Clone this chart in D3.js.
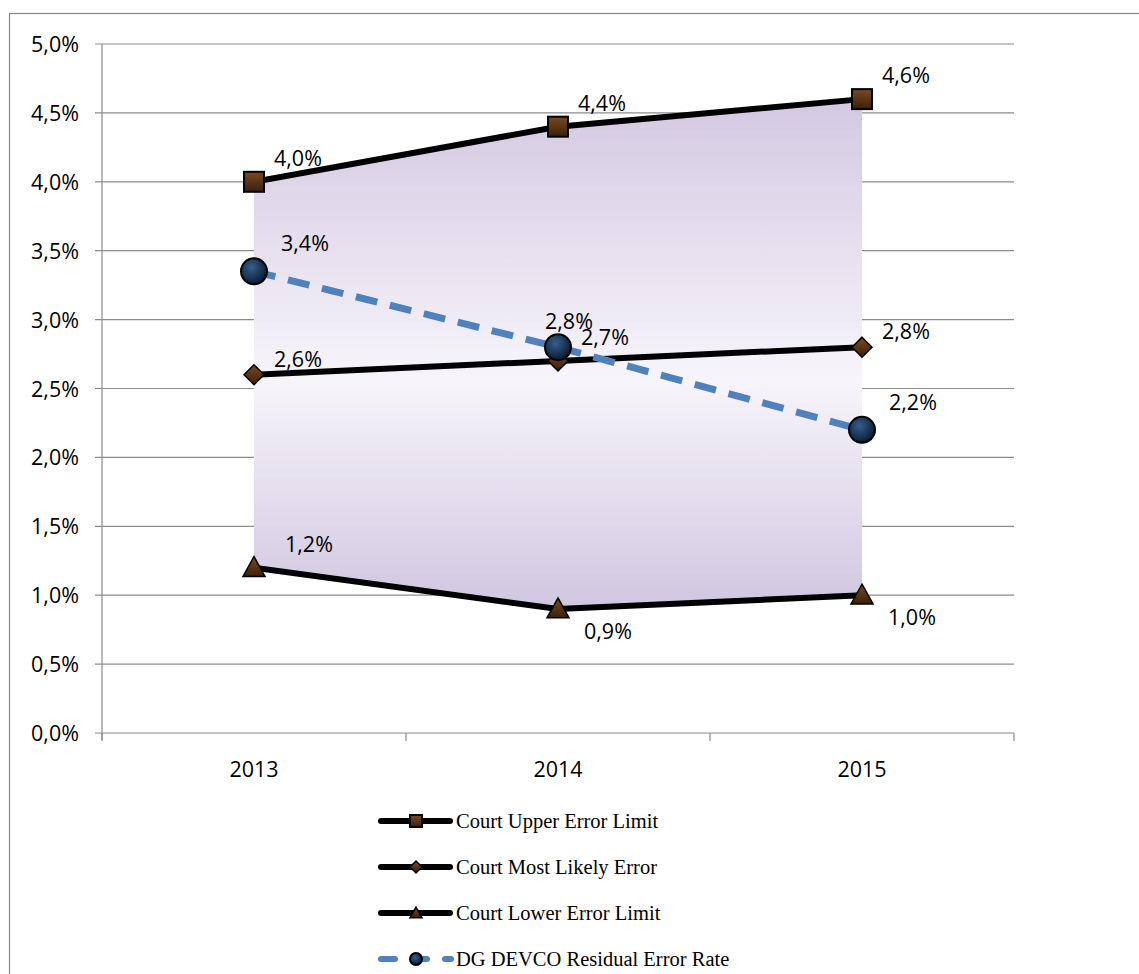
<!DOCTYPE html>
<html><head><meta charset="utf-8">
<script src="https://cdn.jsdelivr.net/npm/d3@7"></script>
<style>body{margin:0;background:#fff}</style>
</head><body>
<svg id="chart" width="1139" height="974"></svg>
<script>
const years = ["2013", "2014", "2015"];
const upper = [4.0, 4.4, 4.6];
const likely = [2.6, 2.7, 2.8];
const lower = [1.2, 0.9, 1.0];
const dg = [3.35, 2.8, 2.2];
const dgLabels = ["3,4%", "2,8%", "2,2%"];
const yTicks = [0, 0.5, 1, 1.5, 2, 2.5, 3, 3.5, 4, 4.5, 5];

const svg = d3.select("#chart");
const fmt = v => v.toFixed(1).replace(".", ",") + "%";
svg.append("rect").attr("x", 9.5).attr("y", 13.5).attr("width", 1140).attr("height", 970)
  .attr("fill", "none").attr("stroke", "#888").attr("stroke-width", 1.2);

const x = d3.scaleBand().domain(years).range([102, 1014]);
const y = d3.scaleLinear().domain([0, 5]).range([733, 44]);
const cx = d => x(d) + x.bandwidth() / 2;

const defs = svg.append("defs");
const g1 = defs.append("linearGradient").attr("id", "band").attr("x1", 0).attr("y1", 0).attr("x2", 0).attr("y2", 1);
g1.append("stop").attr("offset", "0%").attr("stop-color", "#d3c8e2");
g1.append("stop").attr("offset", "55%").attr("stop-color", "#f7f5fa");
g1.append("stop").attr("offset", "100%").attr("stop-color", "#d0c6e0");
const g2 = defs.append("radialGradient").attr("id", "ball").attr("cx", "40%").attr("cy", "35%").attr("r", "65%");
g2.append("stop").attr("offset", "0%").attr("stop-color", "#355f8c");
g2.append("stop").attr("offset", "100%").attr("stop-color", "#0a1a33");
const g3 = defs.append("linearGradient").attr("id", "brown").attr("x1", 0).attr("y1", 0).attr("x2", 0).attr("y2", 1);
g3.append("stop").attr("offset", "0%").attr("stop-color", "#7a4a22");
g3.append("stop").attr("offset", "100%").attr("stop-color", "#3b1f0a");

// gridlines
svg.append("g").selectAll("line").data(yTicks).join("line")
  .attr("x1", 95).attr("x2", 1014).attr("y1", d => y(d)).attr("y2", d => y(d))
  .attr("stroke", "#8c8c8c").attr("stroke-width", 1.2);
svg.append("g").selectAll("text").data(yTicks).join("text")
  .attr("x", 79).attr("y", d => y(d) + 8).attr("text-anchor", "end")
  .attr("font-family", "Open Sans, sans-serif").attr("font-size", 21.5).text(fmt);

// area
const area = d3.area().x((d, i) => cx(years[i])).y0((d, i) => y(lower[i])).y1(d => y(d));
svg.append("path").datum(upper).attr("d", area).attr("fill", "url(#band)");

// axes lines
svg.append("line").attr("x1", 102).attr("x2", 102).attr("y1", 44).attr("y2", 740).attr("stroke", "#8c8c8c").attr("stroke-width", 1.2);
svg.append("g").selectAll("line").data([102, 406, 710, 1014]).join("line")
  .attr("x1", d => d).attr("x2", d => d).attr("y1", 733).attr("y2", 741).attr("stroke", "#8c8c8c").attr("stroke-width", 1.2);
svg.append("g").selectAll("text").data(years).join("text")
  .attr("x", cx).attr("y", 777).attr("text-anchor", "middle")
  .attr("font-family", "Open Sans, sans-serif").attr("font-size", 21.5).text(d => d);

const line = d3.line().x((d, i) => cx(years[i])).y(d => y(d));
[upper, likely, lower].forEach(s => svg.append("path").datum(s).attr("d", line)
  .attr("fill", "none").attr("stroke", "#000").attr("stroke-width", 6));
svg.append("path").datum(dg).attr("d", line).attr("fill", "none")
  .attr("stroke", "#4f81bd").attr("stroke-width", 7).attr("stroke-dasharray", "22,13");

function marker(g, type, px, py, s) {
  if (type === "sq") {
    g.append("rect").attr("x", px - s).attr("y", py - s).attr("width", 2 * s).attr("height", 2 * s)
      .attr("fill", "url(#brown)").attr("stroke", "#000").attr("stroke-width", 2);
  } else if (type === "dia") {
    g.append("path").attr("d", `M${px},${py - s}L${px + s},${py}L${px},${py + s}L${px - s},${py}Z`)
      .attr("fill", "url(#brown)").attr("stroke", "#000").attr("stroke-width", 1.5);
  } else if (type === "tri") {
    g.append("path").attr("d", `M${px},${py - s}L${px + s},${py + s * 0.8}L${px - s},${py + s * 0.8}Z`)
      .attr("fill", "url(#brown)").attr("stroke", "#000").attr("stroke-width", 1.5);
  } else {
    g.append("circle").attr("cx", px).attr("cy", py).attr("r", s)
      .attr("fill", "url(#ball)").attr("stroke", "#000").attr("stroke-width", 2);
  }
}
const mk = svg.append("g");
years.forEach((yr, i) => {
  marker(mk, "sq", cx(yr), y(upper[i]), 10);
  marker(mk, "dia", cx(yr), y(likely[i]), 10);
  marker(mk, "tri", cx(yr), y(lower[i]), 11);
  marker(mk, "ball", cx(yr), y(dg[i]), 13);
});

// data labels
const labels = [];
years.forEach((yr, i) => {
  labels.push({ x: cx(yr) + 20, y: y(upper[i]) - 16, t: fmt(upper[i]) });
  labels.push({ x: cx(yr) + (i === 1 ? 23 : 20), y: y(likely[i]) - 8 + (i === 1 ? -8 : 0), t: fmt(likely[i]) });
  labels.push({ x: cx(yr) + (i === 0 ? 31 : 26), y: y(lower[i]) + (i === 0 ? -16 : 30), t: fmt(lower[i]) });
  labels.push({ x: cx(yr) + (i === 1 ? -13 : 27), y: y(dg[i]) - (i === 1 ? 18 : 20), t: dgLabels[i] });
});
svg.append("g").selectAll("text").data(labels).join("text")
  .attr("x", d => d.x).attr("y", d => d.y).attr("font-family", "Open Sans, sans-serif")
  .attr("font-size", 21.5).text(d => d.t);

// legend
const legend = [
  { label: "Court Upper Error Limit", type: "sq" },
  { label: "Court Most Likely Error", type: "dia" },
  { label: "Court Lower Error Limit", type: "tri" },
  { label: "DG DEVCO Residual Error Rate", type: "ball" }
];
const lg = svg.append("g").selectAll("g").data(legend).join("g")
  .attr("transform", (d, i) => `translate(0,${821 + i * 46})`);
lg.each(function (d) {
  const g = d3.select(this);
  if (d.type === "ball") {
    g.append("line").attr("x1", 381).attr("x2", 451).attr("y1", 0).attr("y2", 0)
      .attr("stroke", "#4f81bd").attr("stroke-width", 6).attr("stroke-linecap", "round").attr("stroke-dasharray", "14,18");
    marker(g, "ball", 416, 0, 6);
  } else {
    g.append("line").attr("x1", 381).attr("x2", 450).attr("y1", 0).attr("y2", 0)
      .attr("stroke", "#000").attr("stroke-width", 6).attr("stroke-linecap", "round");
    marker(g, d.type, 416, 0, 6);
  }
  g.append("text").attr("x", 456).attr("y", 7).attr("font-family", "Liberation Serif, serif")
    .attr("font-size", 20.5).text(d.label);
});
</script>
</body></html>
